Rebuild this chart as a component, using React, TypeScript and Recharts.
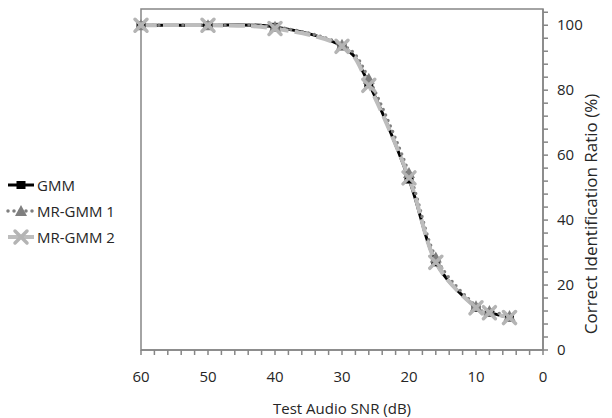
import { LineChart, Line, XAxis, YAxis, ReferenceArea } from 'recharts';

// values
const snr = [60, 50, 40, 30, 26, 20, 16, 10, 8, 5];
const gmm = [100, 100, 99.5, 93.5, 82, 52.5, 27, 13, 11.5, 10];
const mrGmm1 = [100, 100, 99.5, 94, 83.5, 54.5, 28.5, 13.5, 12, 10.5];
const mrGmm2 = [100, 100, 99, 93.5, 81.5, 53, 27, 13, 11.5, 10];

const xMajorTicks = [60, 50, 40, 30, 20, 10, 0];
const yMajorTicks = [0, 20, 40, 60, 80, 100];
const xMinorStep = 2;
const yMinorStep = 4;

const FONT = "'Open Sans', 'Noto Sans', sans-serif";
const AXIS = '#868686';
const TEXT = '#262626';

const xTicks = Array.from({ length: 60 / xMinorStep + 1 }, (_, i) => i * xMinorStep);
const yTicks = Array.from({ length: Math.floor(105 / yMinorStep) + 1 }, (_, i) => i * yMinorStep);

const data = snr.map((x, i) => ({ snr: x, gmm: gmm[i], mr1: mrGmm1[i], mr2: mrGmm2[i] }));

// Excel-like smoothed line (Catmull-Rom through the points)
function smoothCurve(context: any) {
  let pts: number[][] = [];
  return {
    areaStart() {},
    areaEnd() {},
    lineStart() {
      pts = [];
    },
    point(x: number, y: number) {
      pts.push([+x, +y]);
    },
    lineEnd() {
      const n = pts.length;
      if (!n) return;
      context.moveTo(pts[0][0], pts[0][1]);
      const t = 1 / 6;
      for (let i = 0; i < n - 1; i++) {
        const p0 = pts[i - 1] || pts[i];
        const p1 = pts[i];
        const p2 = pts[i + 1];
        const p3 = pts[i + 2] || p2;
        context.bezierCurveTo(
          p1[0] + (p2[0] - p0[0]) * t,
          p1[1] + (p2[1] - p0[1]) * t,
          p2[0] - (p3[0] - p1[0]) * t,
          p2[1] - (p3[1] - p1[1]) * t,
          p2[0],
          p2[1]
        );
      }
    },
  };
}

function SquareDot(props: any) {
  const { cx, cy } = props;
  if (cx == null || cy == null) return null;
  return <rect x={cx - 4.5} y={cy - 4} width={9} height={8} fill="#000" />;
}

function TriangleDot(props: any) {
  const { cx, cy } = props;
  if (cx == null || cy == null) return null;
  return <polygon points={`${cx},${cy - 6} ${cx + 6},${cy + 5} ${cx - 6},${cy + 5}`} fill="#7f7f7f" />;
}

function CrossDot(props: any) {
  const { cx, cy } = props;
  if (cx == null || cy == null) return null;
  const r = 6;
  return (
    <path
      d={`M${cx - r},${cy - r}L${cx + r},${cy + r}M${cx + r},${cy - r}L${cx - r},${cy + r}`}
      stroke="#b4b4b4"
      strokeWidth={3.5}
      strokeLinecap="round"
    />
  );
}

const series = [
  { key: 'gmm', name: 'GMM', color: '#000000', width: 3, dash: undefined as string | undefined, legendDash: undefined as string | undefined, cap: 'butt', Dot: SquareDot },
  { key: 'mr1', name: 'MR-GMM 1', color: '#7f7f7f', width: 3.5, dash: '0 6', legendDash: '0 6', cap: 'round', Dot: TriangleDot },
  { key: 'mr2', name: 'MR-GMM 2', color: '#bdbdbd', width: 4, dash: '16 6', legendDash: undefined, cap: 'butt', Dot: CrossDot },
];

function XTick(props: any) {
  const { x, y, payload } = props;
  if (!xMajorTicks.includes(payload.value)) return null;
  return (
    <text x={x} y={y} dy={25} textAnchor="middle" fill={TEXT} fontSize={15} fontFamily={FONT}>
      {payload.value}
    </text>
  );
}

function YTick(props: any) {
  const { x, y, payload } = props;
  if (!yMajorTicks.includes(payload.value)) return null;
  return (
    <text x={x} y={y} dy={5} textAnchor="start" fill={TEXT} fontSize={15} fontFamily={FONT}>
      {payload.value}
    </text>
  );
}

function Legend() {
  return (
    <div style={{ position: 'absolute', left: 5, top: 172, fontFamily: FONT, fontSize: 15, color: TEXT }}>
      {series.map((s) => (
        <div key={s.key} style={{ display: 'flex', alignItems: 'center', height: 26 }}>
          <svg width={32} height={20}>
            <line
              x1={3}
              y1={10}
              x2={29}
              y2={10}
              stroke={s.color}
              strokeWidth={s.width}
              strokeDasharray={s.legendDash}
              strokeLinecap={s.cap as any}
            />
            <s.Dot cx={16} cy={10} />
          </svg>
          <span>{s.name}</span>
        </div>
      ))}
    </div>
  );
}

export default function App() {
  return (
    <div style={{ position: 'absolute', left: 0, top: 0, width: 612, height: 418, background: '#fff' }}>
      <LineChart width={612} height={418} data={data} margin={{ top: 9, right: 0, bottom: 0, left: 141 }}>
        <ReferenceArea x1={0} x2={60} y1={0} y2={105} fill="none" stroke={AXIS} strokeWidth={1.5} ifOverflow="extendDomain" />
        <XAxis
          dataKey="snr"
          type="number"
          domain={[0, 60]}
          reversed
          ticks={xTicks}
          interval={0}
          height={68}
          stroke={AXIS}
          strokeWidth={1.5}
          tickSize={5}
          tick={<XTick />}
          label={{ value: 'Test Audio SNR (dB)', position: 'insideBottom', offset: 4, fill: TEXT, fontSize: 15, fontFamily: FONT }}
        />
        <YAxis
          orientation="right"
          type="number"
          domain={[0, 105]}
          ticks={yTicks}
          interval={0}
          width={69}
          stroke={AXIS}
          strokeWidth={1.5}
          tickSize={5}
          tickMargin={9}
          tick={<YTick />}
          label={{
            value: 'Correct Identification Ratio (%)',
            content: () => (
              <text
                x={597}
                y={214}
                transform="rotate(-90 597 214)"
                textAnchor="middle"
                fill={TEXT}
                fontSize={17}
                fontFamily={FONT}
              >
                Correct Identification Ratio (%)
              </text>
            ),
          }}
        />
        {series.map((s) => (
          <Line
            key={s.key}
            dataKey={s.key}
            name={s.name}
            type={smoothCurve as any}
            stroke={s.color}
            strokeWidth={s.width}
            strokeDasharray={s.dash}
            strokeLinecap={s.cap as any}
            dot={<s.Dot />}
            activeDot={false}
            isAnimationActive={false}
          />
        ))}
      </LineChart>
      <Legend />
    </div>
  );
}
